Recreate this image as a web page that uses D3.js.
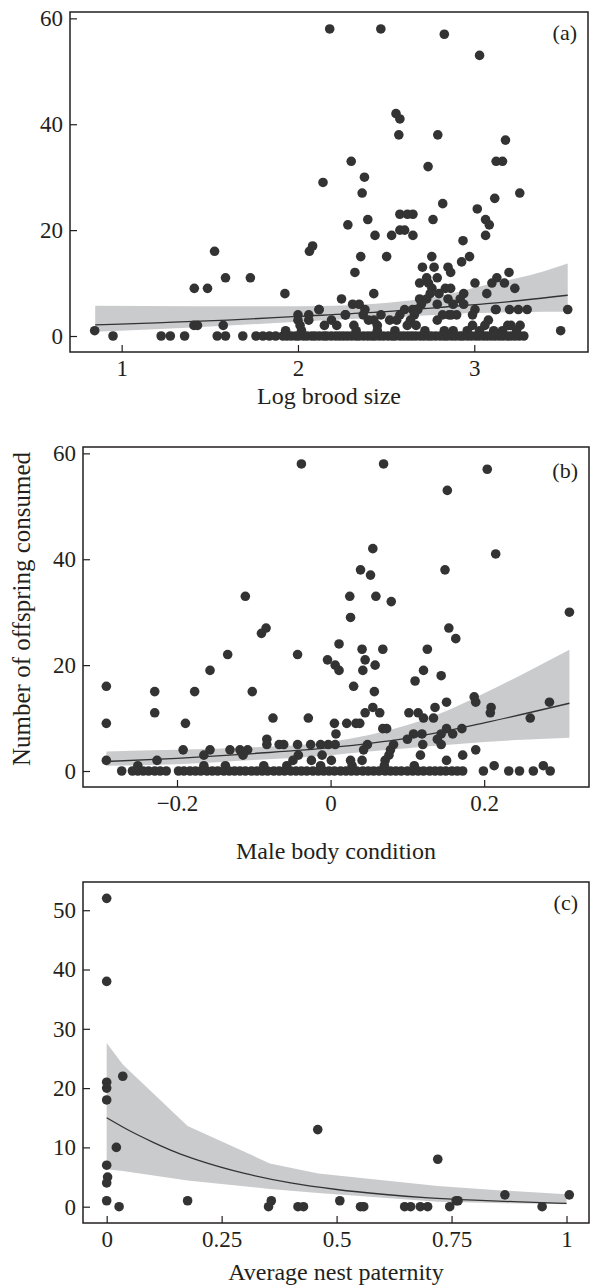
<!DOCTYPE html>
<html>
<head>
<meta charset="utf-8">
<script src="https://cdn.jsdelivr.net/npm/d3@7"></script>
<style>
body { margin: 0; background: #ffffff; }
</style>
</head>
<body>
<svg id="chart" width="591" height="1286"></svg>
<script>
// ------------------------------------------------------------------
// Data

// Panel (a) Log brood size vs offspring consumed
var brood_Ticks = [1, 2, 3];
var consumed_Ticks = [0, 20, 40, 60];
var brood_Points = [
    [2.18,58],[2.47,58],[2.83,57],[3.03,53],
    [2.556,42],[2.578,41],[2.572,38],[2.793,38],[3.177,37],
    [2.302,33],[3.124,33],[3.16,33],[2.738,32],[2.377,30],[2.142,29],
    [2.364,27],[3.258,27],[3.116,26],[2.821,25],[3.017,24],
    [2.578,23],[2.621,23],[2.652,23],[2.396,22],[2.766,22],[3.064,22],[2.283,21],[3.085,21],
    [2.578,20],[2.605,20],[2.437,19],[2.531,19],[2.652,19],[3.064,19],[2.936,18],
    [2.083,17],[1.527,16],[2.065,16],[2.356,15],[2.503,15],[2.759,15],[2.973,15],[2.928,14],
    [2.706,13],[2.772,13],[2.851,13],[2.323,12],[2.866,12],[3.197,12],
    [1.589,11],[1.73,11],[2.73,11],[2.79,11],[3.128,11],
    [2.69,10],[2.74,10],[3.004,10],[3.10,10],[3.171,10],
    [1.412,9],[1.487,9],[2.836,9],[2.866,9],[3.23,9],[2.76,9],
    [1.926,8],[2.43,8],[2.94,8],[3.071,8],[2.75,8],[2.80,8],
    [2.247,7],[2.69,7],[2.73,7],[2.851,7],[2.92,7],
    [2.347,6],[2.79,6],[2.94,6],[2.31,6],[2.70,6],[2.88,6],
    [2.119,5],[2.605,5],[3.004,5],[3.124,5],[3.25,5],[3.30,5],[3.53,5],
    [2.12,5],[2.38,5],[2.65,5],[2.67,5],[2.68,5],[3.12,5],[3.20,5],
    [2.061,4],[2.268,4],[2.37,4],[2.471,4],[2.578,4],[2.66,4],[2.857,4],[2.90,4],[2.99,4],
    [2.0,4],[2.27,4],[2.82,4],[2.87,4],
    [2.061,3],[2.43,3],[2.638,3],[2.79,3],[3.08,3],[2.0,3],[2.19,3],[2.40,3],[2.52,3],[2.56,3],
    [1.41,2],[1.43,2],[1.576,2],[2.012,2],[2.15,2],[2.317,2],[2.45,2],[2.67,2],[2.99,2],[3.208,2],
    [2.22,2],[2.62,2],[3.06,2],[3.19,2],[3.26,2],
    [0.847,1],[1.93,1],[2.02,1],[2.33,1],[2.45,1],[2.55,1],[2.83,1],[3.03,1],[3.16,1],[3.24,1],[3.49,1],
    [2.72,1],[2.88,1],[2.96,1],[3.11,1]
];
// broods where nothing was eaten (y = 0)
var brood_Zeros = [0.951,1.224,1.276,1.357,1.542,1.589,1.687,1.762,1.801,1.838,1.873,1.915,1.938,1.962,
    1.987,2.004,2.031,2.052,2.078,2.097,2.121,2.146,2.163,2.189,2.214,2.236,2.258,2.281,2.305,2.329,
    2.347,2.372,2.396,2.418,2.437,2.462,2.485,2.511,2.534,2.552,2.579,2.601,2.624,2.646,2.668,2.693,
    2.714,2.738,2.757,2.781,2.806,2.828,2.847,2.872,2.894,2.918,2.936,2.961,2.983,3.007,3.028,3.052,
    3.073,3.096,3.118,3.142,3.163,3.187,3.208,3.231,3.255,3.281];
var brood_Fit_X = [0.85, 1.2, 1.6, 2.0, 2.4, 2.8, 3.2, 3.53];
var brood_Fit_Y = [2.1, 2.5, 3.0, 3.7, 4.4, 5.4, 6.5, 7.7];
var brood_Band_X = [0.85, 1.4, 2.0, 2.3, 2.58, 2.8, 2.95, 3.1, 3.24, 3.4, 3.53];
var brood_Band_Low = [0.8, 1.6, 2.7, 3.2, 3.6, 4.0, 4.3, 4.4, 4.5, 4.6, 4.6];
var brood_Band_High = [5.7, 5.6, 5.6, 5.8, 6.5, 7.5, 8.7, 9.9, 10.9, 12.3, 13.7];

// Panel (b) Male body condition
var condition_Ticks = [-0.2, 0, 0.2];
var condition_Points = [
    [-0.038,58],[0.069,58],[0.204,57],[0.152,53],[0.055,42],[0.215,41],[0.039,38],[0.149,38],[0.052,37],
    [-0.111,33],[0.025,33],[0.059,33],[0.079,32],[0.311,30],[0.026,29],
    [-0.084,27],[0.154,27],[-0.090,26],[0.163,25],[0.011,24],
    [0.041,23],[0.068,23],[0.126,23],[-0.134,22],[-0.043,22],[-0.004,21],[0.045,21],
    [0.006,20],[0.058,20],[-0.157,19],[0.011,19],[0.042,19],[0.121,19],[0.144,18],[0.110,17],
    [-0.292,16],[0.030,16],[-0.229,15],[-0.177,15],[-0.102,15],[0.057,15],
    [0.187,14],[0.151,13],[0.189,13],[0.285,13],[0.055,12],[0.136,12],[0.209,12],
    [-0.229,11],[0.045,11],[0.102,11],[0.114,11],[0.064,11],[0.208,11],
    [-0.075,10],[-0.029,10],[0.121,10],[0.134,10],[0.260,10],
    [-0.292,9],[-0.189,9],[0.005,9],[0.021,9],[0.033,9],[0.038,9],
    [0.068,8],[0.073,8],[0.151,8],[0.171,8],
    [0.007,7],[0.108,7],[0.119,7],[0.144,7],[0.159,7],
    [-0.083,6],[0.100,6],[0.139,6],
    [-0.083,5],[-0.067,5],[-0.061,5],[-0.043,5],[-0.026,5],[-0.013,5],[-0.003,5],[0.006,5],[0.048,5],[0.082,5],[0.120,5],[0.144,5],
    [-0.192,4],[-0.157,4],[-0.131,4],[-0.118,4],[-0.108,4],[0.043,4],[0.078,4],[0.189,4],
    [-0.165,3],[-0.114,3],[-0.042,3],[-0.011,3],[0.076,3],[0.117,3],[0.172,3],
    [-0.292,2],[-0.226,2],[-0.049,2],[-0.025,2],[0.001,2],[0.026,2],[0.041,2],[0.071,2],[0.151,2],
    [-0.251,1],[-0.165,1],[-0.137,1],[-0.087,1],[-0.057,1],[-0.013,1],[0.028,1],[0.070,1],[0.109,1],[0.213,1],[0.277,1]
];
var condition_Zeros = [-0.272,-0.258,-0.251,-0.244,-0.237,-0.229,-0.222,-0.214,-0.198,-0.191,-0.183,
    -0.176,-0.169,-0.161,-0.154,-0.147,-0.139,-0.132,-0.125,-0.118,-0.111,-0.103,-0.096,-0.089,-0.082,
    -0.074,-0.067,-0.06,-0.052,-0.045,-0.038,-0.031,-0.023,-0.016,-0.009,-0.002,0.005,0.013,0.02,0.027,
    0.034,0.042,0.049,0.056,0.063,0.071,0.078,0.085,0.092,0.1,0.107,0.114,0.121,0.129,0.136,0.143,
    0.15,0.158,0.165,0.172,0.199,0.232,0.246,0.264,0.286];
var condition_Fit_X = [-0.292, -0.2, -0.1, 0, 0.1, 0.2, 0.311];
var condition_Fit_Y = [1.8, 2.4, 3.3, 4.4, 6.2, 9.1, 12.8];
var condition_Band_X = [-0.292, -0.2, -0.1, 0, 0.05, 0.1, 0.15, 0.2, 0.25, 0.311];
var condition_Band_Low = [1.0, 1.3, 2.1, 3.0, 3.7, 4.3, 4.9, 5.5, 5.9, 6.3];
var condition_Band_High = [3.7, 4.0, 4.5, 5.5, 6.8, 8.7, 11.3, 14.7, 18.3, 22.9];

// Panel (c) Average nest paternity
var paternity_Ticks = [0, 0.25, 0.5, 0.75, 1];
var paternity_Count_Ticks = [0, 10, 20, 30, 40, 50];
var paternity_Points = [
    [0,52],[0,38],[0,21],[0,20],[0,18],[0.035,22],[0.021,10],[0,7],[0.002,5],[0,4],[0,1],[0.027,0],
    [0.459,13],[0.72,8],[0.176,1],[0.352,0],[0.358,1],[0.416,0],[0.428,0],[0.507,1],[0.552,0],[0.559,0],
    [0.648,0],[0.661,0],[0.682,0],[0.698,0],[0.746,0],[0.76,1],[0.764,1],[0.866,2],[0.947,0],[1.006,2]
];
var paternity_Fit_X = [0, 0.05, 0.1, 0.15, 0.2, 0.3, 0.4, 0.5, 0.6, 0.7, 0.8, 0.9, 1.0];
var paternity_Fit_Y = [15.0, 12.8, 10.9, 9.2, 7.8, 5.6, 4.0, 2.9, 2.1, 1.5, 1.1, 0.8, 0.55];
var paternity_Band_X = [0, 0.035, 0.176, 0.355, 0.46, 0.72, 0.866, 1.0];
var paternity_Band_Low = [6.3, 6.0, 4.4, 3.0, 2.3, 0.85, 0.6, 0.4];
var paternity_Band_High = [27.6, 24.0, 13.6, 7.3, 5.6, 3.5, 2.7, 2.1];

// ------------------------------------------------------------------

var svg = d3.select("#chart");
var serif = "'Liberation Serif', 'DejaVu Serif', serif";
var ink = "#231f20";
var dotColor = "#333333";
var bandColor = "#cacbcd";

function minus_Format(d)
{
    return (d < 0 ? "\u2212" : "") + Math.abs(d);
}

function draw_Panel(p)
{
    var x = d3.scaleLinear().domain(p.xDomain).range([p.left, p.right]);
    var y = d3.scaleLinear().domain(p.yDomain).range([p.bottom, p.top]);
    var g = svg.append("g");

    // confidence band
    var band = p.bandX.map(function(d, i) { return [d, p.bandLow[i], p.bandHigh[i]]; });
    g.append("path")
    .datum(band)
    .attr("fill", bandColor)
    .attr("d", d3.area()
        .x(function(d) { return x(d[0]); })
        .y0(function(d) { return y(d[1]); })
        .y1(function(d) { return y(d[2]); })
        .curve(p.bandCurve));

    // fitted line
    var fit = p.fitX.map(function(d, i) { return [d, p.fitY[i]]; });
    g.append("path")
    .datum(fit)
    .attr("fill", "none")
    .attr("stroke", "#333333")
    .attr("stroke-width", 1.3)
    .attr("d", d3.line()
        .x(function(d) { return x(d[0]); })
        .y(function(d) { return y(d[1]); })
        .curve(d3.curveMonotoneX));

    // points
    var pts = p.points.concat((p.zeros || []).map(function(d) { return [d, 0]; }));
    g.selectAll("circle.dot")
    .data(pts)
    .enter().append("circle")
    .attr("class", "dot")
    .attr("cx", function(d) { return x(d[0]); })
    .attr("cy", function(d) { return y(d[1]); })
    .attr("r", 4.8)
    .attr("fill", dotColor);

    // axes, ticks pointing inward
    var yAxis = g.append("g")
    .attr("transform", "translate(" + p.left + ",0)")
    .call(d3.axisLeft(y).tickValues(p.yTicks).tickSize(-7).tickPadding(7).tickFormat(minus_Format));
    var xAxis = g.append("g")
    .attr("transform", "translate(0," + p.bottom + ")")
    .call(d3.axisBottom(x).tickValues(p.xTicks).tickSize(-7).tickPadding(8).tickFormat(minus_Format));

    [yAxis, xAxis].forEach(function(a)
    {
        a.select(".domain").remove();
        a.selectAll("line").attr("stroke", ink).attr("stroke-width", 1.2);
        a.selectAll("text")
        .attr("fill", ink)
        .style("font-family", serif)
        .style("font-size", "23px");
    });

    // frame
    g.append("rect")
    .attr("x", p.left)
    .attr("y", p.top)
    .attr("width", p.right - p.left)
    .attr("height", p.bottom - p.top)
    .attr("fill", "none")
    .attr("stroke", ink)
    .attr("stroke-width", 1.5);

    // panel letter
    g.append("text")
    .attr("x", p.right - 11)
    .attr("y", p.letterY)
    .attr("text-anchor", "end")
    .attr("fill", ink)
    .style("font-family", serif)
    .style("font-size", "22px")
    .text(p.letter);

    // x title
    g.append("text")
    .attr("x", (p.left + p.right) / 2)
    .attr("y", p.titleY)
    .attr("text-anchor", "middle")
    .attr("fill", ink)
    .style("font-family", serif)
    .style("font-size", "24px")
    .text(p.title);
}

draw_Panel({
    left: 70, right: 588, top: 12, bottom: 352,
    xDomain: [0.707, 3.645], yDomain: [-3.02, 61.2],
    xTicks: brood_Ticks, yTicks: consumed_Ticks,
    points: brood_Points, zeros: brood_Zeros,
    fitX: brood_Fit_X, fitY: brood_Fit_Y,
    bandX: brood_Band_X, bandLow: brood_Band_Low, bandHigh: brood_Band_High,
    bandCurve: d3.curveMonotoneX,
    letter: "(a)", letterY: 40,
    title: "Log brood size", titleY: 404
});

draw_Panel({
    left: 83, right: 589, top: 447, bottom: 787,
    xDomain: [-0.3224, 0.3365], yDomain: [-3.02, 61.2],
    xTicks: condition_Ticks, yTicks: consumed_Ticks,
    points: condition_Points, zeros: condition_Zeros,
    fitX: condition_Fit_X, fitY: condition_Fit_Y,
    bandX: condition_Band_X, bandLow: condition_Band_Low, bandHigh: condition_Band_High,
    bandCurve: d3.curveMonotoneX,
    letter: "(b)", letterY: 478,
    title: "Male body condition", titleY: 859
});

draw_Panel({
    left: 83, right: 589, top: 882, bottom: 1223,
    xDomain: [-0.0515, 1.0489], yDomain: [-2.75, 54.76],
    xTicks: paternity_Ticks, yTicks: paternity_Count_Ticks,
    points: paternity_Points, zeros: [],
    fitX: paternity_Fit_X, fitY: paternity_Fit_Y,
    bandX: paternity_Band_X, bandLow: paternity_Band_Low, bandHigh: paternity_Band_High,
    bandCurve: d3.curveLinear,
    letter: "(c)", letterY: 910,
    title: "Average nest paternity", titleY: 1280
});

// shared y title beside panel (b)
svg.append("text")
.attr("transform", "translate(30,609) rotate(-90)")
.attr("text-anchor", "middle")
.attr("fill", ink)
.style("font-family", serif)
.style("font-size", "25px")
.text("Number of offspring consumed");
</script>
</body>
</html>
